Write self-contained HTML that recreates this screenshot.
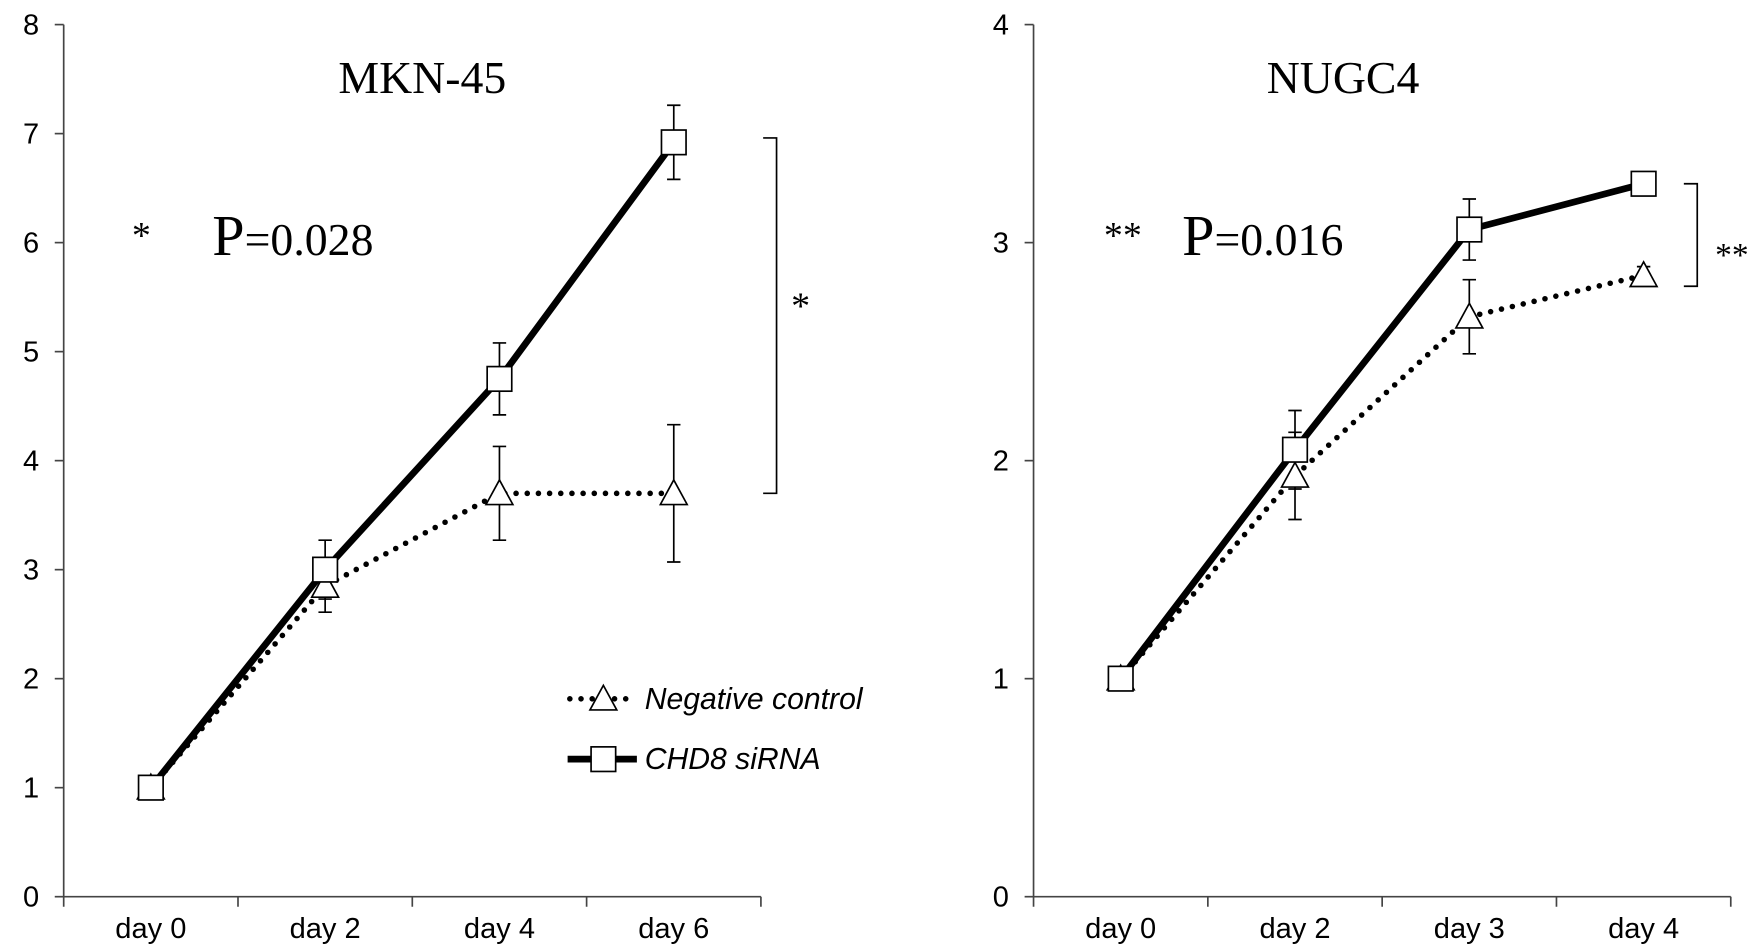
<!DOCTYPE html>
<html><head><meta charset="utf-8"><style>
html,body{margin:0;padding:0;background:#fff;}
svg{display:block;}
.tk{font-family:"Liberation Sans",sans-serif;font-size:26px;fill:#000;}
.sf{font-family:"Liberation Serif",serif;fill:#000;}
</style></head><body>
<svg id="c" width="1752" height="947" viewBox="0 0 1568 847" preserveAspectRatio="none"></svg>
<script>
const catsL=["day 0","day 2","day 4","day 6"];
const negL=[1,2.85,3.7,3.7];
const negErrL=[0,0.24,0.43,0.63];
const chdL=[1,3.0,4.75,6.92];
const chdErrL=[0,0.27,0.33,0.34];
const ticksL=[0,1,2,3,4,5,6,7,8];
const catsR=["day 0","day 2","day 3","day 4"];
const negR=[1,1.93,2.66,2.85];
const negErrR=[0,0.2,0.17,0.04];
const chdR=[1,2.05,3.06,3.27];
const chdErrR=[0,0.18,0.14,0.05];
const ticksR=[0,1,2,3,4];

const NS="http://www.w3.org/2000/svg";
const svg=document.getElementById('c');
function mk(t,a,p){const e=document.createElementNS(NS,t);for(const k in a)e.setAttribute(k,a[k]);(p||svg).appendChild(e);return e;}

function panel(name,x0,x1,y0,y1,ymax,cats,neg,negErr,chd,chdErr,ticks){
  const g=mk('g',{});
  
  
  const ys=v=>y0-(v/ymax)*(y0-y1);
  const cw=(x1-x0)/cats.length;
  const xs=i=>x0+cw*(i+0.5);
  const ax=mk('path',{d:`M${x0} ${y1}V${y0}H${x1}`,stroke:'#444',fill:'none','stroke-width':1.5},g);
  
  ticks.forEach(t=>{
    mk('line',{x1:x0-8,x2:x0,y1:ys(t),y2:ys(t),stroke:'#444','stroke-width':1.5},g);
    const tx=mk('text',{x:x0-22,y:ys(t)+9,'text-anchor':'end',class:'tk'},g);tx.textContent=t;
    
  });
  for(let i=0;i<=cats.length;i++) mk('line',{x1:x0+cw*i,x2:x0+cw*i,y1:y0,y2:y0+9,stroke:'#444','stroke-width':1.5},g);
  cats.forEach((c,i)=>{const tx=mk('text',{x:xs(i),y:y0+37,'text-anchor':'middle',class:'tk'},g);tx.textContent=c;
    });
  function err(v,e){v.forEach((val,i)=>{if(!e[i])return;const x=xs(i),a=ys(val+e[i]),b=ys(val-e[i]);
    mk('path',{d:`M${x} ${a}V${b}M${x-6} ${a}H${x+6}M${x-6} ${b}H${x+6}`,stroke:'#000','stroke-width':1.5,fill:'none'},g);});}
  err(neg,negErr);err(chd,chdErr);
  const ln=mk('polyline',{points:neg.map((v,i)=>xs(i)+','+ys(v)).join(' '),fill:'none',stroke:'#000','stroke-width':5,'stroke-dasharray':'0 10','stroke-linecap':'round'},g);
  
  const l2=mk('polyline',{points:chd.map((v,i)=>xs(i)+','+ys(v)).join(' '),fill:'none',stroke:'#000','stroke-width':6},g);
  
  neg.forEach((v,i)=>{const x=xs(i),y=ys(v);const m=mk('path',{d:`M${x} ${y-12}L${x+12} ${y+10}L${x-12} ${y+10}Z`,fill:'#fff',stroke:'#000','stroke-width':1.5},g);
    });
  chd.forEach((v,i)=>{const x=xs(i),y=ys(v);const m=mk('rect',{x:x-11,y:y-11,width:22,height:22,fill:'#fff',stroke:'#000','stroke-width':1.5},g);
    });
  return {g,ys,xs};
}
const L=panel('panel-mkn45',57,681,802,22,8,catsL,negL,negErrL,chdL,chdErrL,ticksL);
const R=panel('panel-nugc4',925,1549,802,22,4,catsR,negR,negErrR,chdR,chdErrR,ticksR);

function txt(s,x,y,size,name,extra){const t=mk('text',Object.assign({x:x,y:y,class:'sf','font-size':size},extra||{}));t.textContent=s;
  return t;}
txt('MKN-45',378,83,41,'title-mkn45',{'text-anchor':'middle'});
txt('NUGC4',1202,83,41,'title-nugc4',{'text-anchor':'middle'});
txt('*',118,222,34,'significance-star');
const p1=mk('text',{x:190,y:228,class:'sf'});p1.innerHTML='<tspan font-size="52">P</tspan><tspan font-size="41">=0.028</tspan>';

txt('**',988,222,34,'significance-stars');
const p2=mk('text',{x:1058,y:228,class:'sf'});p2.innerHTML='<tspan font-size="52">P</tspan><tspan font-size="41">=0.016</tspan>';

const b1=mk('path',{d:`M683 ${L.ys(6.96)}H695V${L.ys(3.7)}H683`,fill:'none',stroke:'#000','stroke-width':1.5});

txt('*',708,285,34,'bracket-star');
const b2=mk('path',{d:`M1507 ${R.ys(3.27)}H1519V${R.ys(2.8)}H1507`,fill:'none',stroke:'#000','stroke-width':1.5});

txt('**',1535,238,30,'bracket-stars');
const lg=mk('g',{});
mk('line',{x1:510,x2:570,y1:625,y2:625,stroke:'#000','stroke-width':5,'stroke-dasharray':'0 10','stroke-linecap':'round'},lg);
mk('path',{d:'M540 613L552 635L528 635Z',fill:'#fff',stroke:'#000','stroke-width':1.5},lg);
const t1=mk('text',{x:577,y:634,'font-family':'Liberation Sans, sans-serif','font-size':27,'font-style':'italic'},lg);t1.textContent='Negative control';

mk('line',{x1:508,x2:570,y1:679,y2:679,stroke:'#000','stroke-width':6},lg);
mk('rect',{x:529,y:668,width:22,height:22,fill:'#fff',stroke:'#000','stroke-width':1.5},lg);
const t2=mk('text',{x:577,y:688,'font-family':'Liberation Sans, sans-serif','font-size':27,'font-style':'italic'},lg);t2.textContent='CHD8 siRNA';

</script>
</body></html>
